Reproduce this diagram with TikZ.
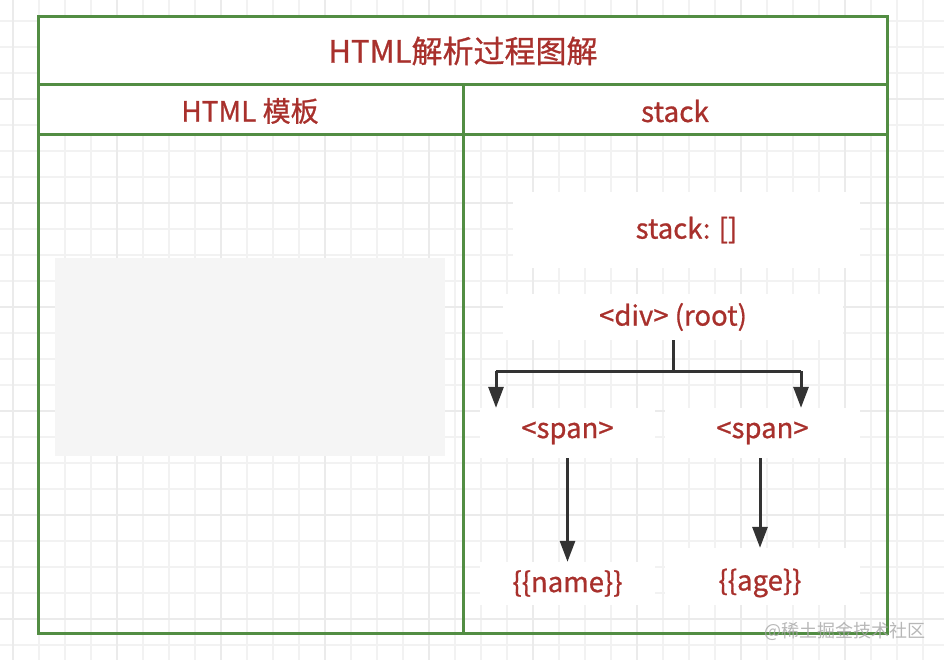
\documentclass[tikz,border=0pt]{standalone}
\usepackage{fontspec}
\newfontfamily\cjk[FakeBold=0.8]{Noto Sans CJK SC}
\newfontfamily\markfont{Noto Sans CJK SC}
\usetikzlibrary{arrows.meta}
\definecolor{tblgreen}{HTML}{528D43}
\definecolor{txtred}{HTML}{A8302C}
\definecolor{linkgray}{HTML}{333333}

\begin{document}
\begin{tikzpicture}[x=1pt,y=-1pt,>={Triangle[length=21pt,width=15pt]},
    lbl/.style={font=\cjk\fontsize{27.5}{32}\selectfont,text=txtred},
    hdr/.style={font=\cjk\fontsize{28}{32}\selectfont,text=txtred},
    box/.style={lbl,fill=white,inner sep=0pt},
    conn/.style={draw=linkgray,line width=3pt}]
    \useasboundingbox (0,0) rectangle (944,660);
    % background grid
    \fill[white] (0,0) rectangle (944,660);
    \foreach \i in {0,...,36}
      \draw[gray!10,line width=1.2pt] ({13+26*\i},0) -- ({13+26*\i},660);
    \foreach \i in {0,...,25}
      \draw[gray!10,line width=1.2pt] (0,{21+26*\i}) -- (944,{21+26*\i});
    \foreach \i in {0,...,9}
      \draw[gray!16,line width=1.6pt] ({13+104*\i},0) -- ({13+104*\i},660);
    \foreach \i in {0,...,6}
      \draw[gray!16,line width=1.6pt] (0,{-5+104*\i}) -- (944,{-5+104*\i});
    % table
    \fill[white] (38,17) rectangle (887,135);
    \fill[gray!8] (55,258) rectangle (445,456);
    \draw[tblgreen,line width=3pt] (38,17) rectangle (887,633);
    \draw[tblgreen,line width=3pt] (38,85) -- (887,85);
    \draw[tblgreen,line width=3pt] (38,135) -- (887,135);
    \draw[tblgreen,line width=3pt] (463,85) -- (463,633);
    \node[hdr,font=\cjk\fontsize{31}{36}\selectfont] (title) at (463,51) {HTML解析过程图解};
    \node[hdr] (tpl) at (250,111) {HTML 模板};
    \node[hdr] (stk) at (675,111) {stack};
    % stack tree
    \node[box,minimum width=347pt,minimum height=76pt] (stack) at (686.5,230) {stack: []};
    \node[box,minimum width=340pt,minimum height=46pt] (div) at (673,317) {<div> (root)};
    \node[box,minimum width=175pt,minimum height=50pt] (spanl) at (567.5,433) {<span>};
    \node[box,minimum width=195pt,minimum height=50pt] (spanr) at (762.5,433) {<span>};
    \node[box,minimum width=175pt,minimum height=43pt] (name) at (567.5,583.5) {\{\{name\}\}};
    \node[box,minimum width=195pt,minimum height=57pt] (agebox) at (762.5,576.5) {};
    \node[lbl] (age) at (760,583) {\{\{age\}\}};
    \coordinate (jl) at (496,371);
    \coordinate (jr) at (801,371);
    \draw[conn] (div.south) -- (div.south |- jl);
    \draw[conn] (jl) -- (jr);
    \draw[conn,->] (jl) -- (jl |- spanl.north);
    \draw[conn,->] (jr) -- (jr |- spanr.north);
    \draw[conn,->] (spanl.south) -- (name.north);
    \draw[conn,->] (spanr.south -| age) -- (agebox.north -| age);
    % watermark
    \node[font=\markfont\fontsize{18}{20}\selectfont,text=gray!70,opacity=0.8] (mark) at (845,631) {@稀土掘金技术社区};
\end{tikzpicture}
\end{document}
